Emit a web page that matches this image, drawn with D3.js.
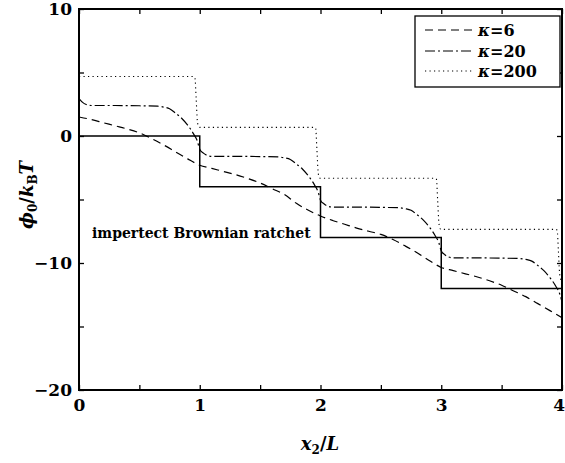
<!DOCTYPE html>
<html><head><meta charset="utf-8">
<script src="https://cdn.jsdelivr.net/npm/d3@7"></script>
<style>body{margin:0;background:#fff}svg{display:block}</style>
</head><body>
<script>
// ---- data ----
const xTicks = [0, 1, 2, 3, 4];
const yTicks = [10, 0, -10, -20];
const seriesKappa = ["6", "20", "200"];

const stairX = [0, 1, 1, 2, 2, 3, 3, 4, 4];
const stairY = [0, 0, -4, -4, -8, -8, -12, -12, -16];

const k6X = [0,0.1,0.2,0.3,0.4,0.5,0.6,0.7,0.8,0.9,1.0,1.1,1.2,1.3,1.4,1.5,1.6,1.7,1.8,1.9,2.0,2.1,2.2,2.3,2.4,2.5,2.6,2.7,2.8,2.9,3.0,3.1,3.2,3.3,3.4,3.5,3.6,3.7,3.8,3.9,4.0];
const k6Y = [1.5,1.3,1.05,0.8,0.55,0.25,-0.2,-0.7,-1.25,-1.8,-2.3,-2.55,-2.8,-3.05,-3.35,-3.7,-4.15,-4.6,-5.3,-5.85,-6.3,-6.65,-6.95,-7.25,-7.5,-7.75,-8.15,-8.65,-9.2,-9.8,-10.35,-10.6,-10.85,-11.1,-11.4,-11.75,-12.2,-12.65,-13.2,-13.75,-14.3];

const k20X = [0,0.03,0.06,0.1,0.3,0.5,0.65,0.7,0.75,0.8,0.85,0.9,0.95,0.98,1.0,1.03,1.06,1.1,1.3,1.5,1.65,1.7,1.75,1.8,1.85,1.9,1.95,1.98,2.0,2.03,2.06,2.1,2.3,2.5,2.65,2.7,2.75,2.8,2.85,2.9,2.95,2.98,3.0,3.03,3.06,3.1,3.3,3.5,3.65,3.7,3.75,3.8,3.85,3.9,3.95,3.98,4.0];
const k20Y = [2.95,2.65,2.48,2.4,2.4,2.38,2.35,2.28,2.15,1.8,1.4,0.85,0.15,-0.4,-1.05,-1.35,-1.52,-1.6,-1.6,-1.62,-1.65,-1.72,-1.85,-2.2,-2.6,-3.15,-3.85,-4.4,-5.05,-5.35,-5.52,-5.6,-5.6,-5.62,-5.65,-5.72,-5.85,-6.2,-6.6,-7.15,-7.85,-8.4,-9.05,-9.35,-9.52,-9.6,-9.6,-9.62,-9.65,-9.72,-9.85,-10.2,-10.6,-11.15,-11.85,-12.4,-13.05];

const k200X = [0,0.95,0.96,0.97,0.98,0.99,1.0,1.95,1.96,1.97,1.98,1.99,2.0,2.95,2.96,2.97,2.98,2.99,3.0,3.95,3.96,3.97,3.98,3.99,4.0];
const k200Y = [4.68,4.68,4.6,3.0,1.2,0.75,0.68,0.68,0.6,-1.0,-2.8,-3.28,-3.33,-3.33,-3.4,-5.0,-6.8,-7.3,-7.35,-7.35,-7.42,-9.0,-10.8,-11.3,-11.35];

// ---- layout ----
const W = 565, H = 463;
const m = {l: 79, t: 9, r: 3, b: 73};
const pw = W - m.l - m.r, ph = H - m.t - m.b;
const x = d3.scaleLinear().domain([0, 4]).range([m.l, m.l + pw]);
const y = d3.scaleLinear().domain([-20, 10]).range([m.t + ph, m.t]);

const svg = d3.select("body").append("svg").attr("width", W).attr("height", H);
const serif = "'DejaVu Serif', 'Liberation Serif', serif";

svg.append("clipPath").attr("id", "c").append("rect")
  .attr("x", m.l).attr("y", m.t).attr("width", pw).attr("height", ph);

const line = d3.line().x(d => x(d[0])).y(d => y(d[1]));
const smooth = d3.line().curve(d3.curveMonotoneX).x(d => x(d[0])).y(d => y(d[1]));
const zip = (a, b) => a.map((v, i) => [v, b[i]]);

const g = svg.append("g").attr("clip-path", "url(#c)");
g.append("path").datum(zip(stairX, stairY)).attr("d", line)
  .attr("fill", "none").attr("stroke", "#000").attr("stroke-width", 1.5);
g.append("path").datum(zip(k6X, k6Y)).attr("d", smooth)
  .attr("fill", "none").attr("stroke", "#000").attr("stroke-width", 1.2).attr("stroke-dasharray", "8,5");
g.append("path").datum(zip(k20X, k20Y)).attr("d", smooth)
  .attr("fill", "none").attr("stroke", "#000").attr("stroke-width", 1.2).attr("stroke-dasharray", "10,3,2,3");
g.append("path").datum(zip(k200X, k200Y)).attr("d", smooth)
  .attr("fill", "none").attr("stroke", "#000").attr("stroke-width", 1.1).attr("stroke-dasharray", "1.2,3.3");

// ---- axes (inward ticks, on all sides) ----
const fmt = d => d < 0 ? "\u2212" + Math.abs(d) : String(d);
const minorX = d3.range(0, 4.01, 0.5);
const minorY = d3.range(-20, 10.01, 5);

const axB = svg.append("g").attr("transform", `translate(0,${m.t + ph})`)
  .call(d3.axisBottom(x).tickValues(minorX).tickSize(-5).tickFormat(d => xTicks.includes(d) ? fmt(d) : ""));
const axT = svg.append("g").attr("transform", `translate(0,${m.t})`)
  .call(d3.axisTop(x).tickValues(minorX).tickSize(-5).tickFormat(""));
const axL = svg.append("g").attr("transform", `translate(${m.l},0)`)
  .call(d3.axisLeft(y).tickValues(minorY).tickSize(-5).tickFormat(d => yTicks.includes(d) ? fmt(d) : ""));
const axR = svg.append("g").attr("transform", `translate(${m.l + pw},0)`)
  .call(d3.axisRight(y).tickValues(minorY).tickSize(-5).tickFormat(""));

[axB, axT, axL, axR].forEach(a => {
  a.select(".domain").remove();
  a.selectAll(".tick line").attr("stroke", "#000").attr("stroke-width", 1.3);
  a.selectAll("text").attr("font-family", serif).attr("font-size", 17).attr("fill", "#000");
});
axB.selectAll("text").attr("dy", "1.05em").attr("font-weight", "bold")
  .filter(d => d === 4).attr("text-anchor", "end").attr("x", 565 - x(4) - 0.5);
axL.selectAll("text").attr("x", -7).attr("font-weight", "bold");

svg.append("rect").attr("x", m.l).attr("y", m.t).attr("width", pw).attr("height", ph)
  .attr("fill", "none").attr("stroke", "#000").attr("stroke-width", 2);

// ---- legend ----
const lg = svg.append("g");
lg.append("rect").attr("x", 415).attr("y", 16).attr("width", 145).attr("height", 71)
  .attr("fill", "#fff").attr("stroke", "#000").attr("stroke-width", 1.3);
const dashes = ["8,5", "10,3,2,3", "1.2,3.3"];
const ly = [30, 51, 71];
seriesKappa.forEach((n, i) => {
  lg.append("line").attr("x1", 425).attr("x2", 474).attr("y1", ly[i]).attr("y2", ly[i])
    .attr("stroke", "#000").attr("stroke-width", 1.2).attr("stroke-dasharray", dashes[i]);
  const t = lg.append("text").attr("x", 478).attr("y", ly[i] + 6).attr("font-family", serif)
    .attr("font-size", 16).attr("font-weight", "bold");
  t.append("tspan").attr("font-style", "italic").text("κ");
  t.append("tspan").text("=" + n);
});

// ---- annotation ----
svg.append("text").attr("x", 92).attr("y", 238).attr("font-family", serif)
  .attr("font-size", 14).attr("font-weight", "bold")
  .text("impertect Brownian ratchet");

// ---- axis titles ----
const xt = svg.append("text").attr("x", 320).attr("y", 450).attr("text-anchor", "middle")
  .attr("font-family", serif).attr("font-size", 18).attr("font-weight", "bold");
xt.append("tspan").attr("font-style", "italic").text("x");
xt.append("tspan").attr("font-size", 12).attr("dy", 4).text("2");
xt.append("tspan").attr("dy", -4).text("/");
xt.append("tspan").attr("font-style", "italic").text("L");

const yt = svg.append("text").attr("transform", "translate(33,195) rotate(-90)").attr("text-anchor", "middle")
  .attr("font-family", serif).attr("font-size", 18).attr("font-weight", "bold");
yt.append("tspan").attr("font-style", "italic").text("ϕ");
yt.append("tspan").attr("font-size", 12).attr("dy", 4).text("0");
yt.append("tspan").attr("dy", -4).text("/");
yt.append("tspan").attr("font-style", "italic").text("k");
yt.append("tspan").attr("font-size", 12).attr("dy", 4).text("B");
yt.append("tspan").attr("dy", -4).attr("font-style", "italic").text("T");
</script>
</body></html>
